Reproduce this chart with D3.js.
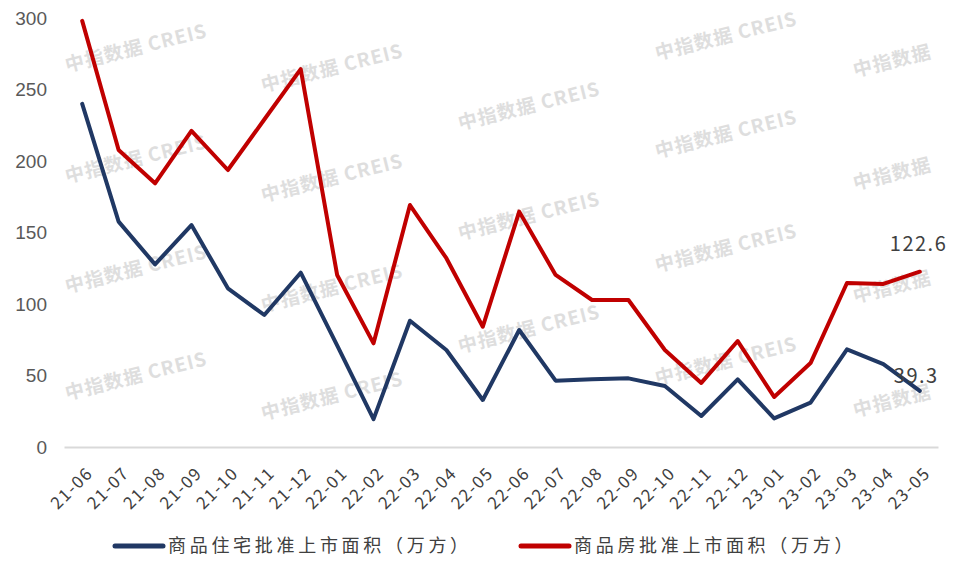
<!DOCTYPE html>
<html>
<head>
<meta charset="utf-8">
<script src="https://cdn.jsdelivr.net/npm/d3@7/dist/d3.min.js"></script>
<style>
  html, body { margin: 0; padding: 0; background: #ffffff; }
  svg { display: block; }
</style>
</head>
<body>
<svg id="chart" width="973" height="562"></svg>
<script>
const categories = ["21-06","21-07","21-08","21-09","21-10","21-11","21-12",
  "22-01","22-02","22-03","22-04","22-05","22-06","22-07","22-08","22-09","22-10","22-11","22-12",
  "23-01","23-02","23-03","23-04","23-05"];
const residentialValues = [240, 157.6, 127.7, 155.2, 111, 92.3, 121.9,
  71, 19.5, 88.3, 67.8, 32.9, 81.8, 46.4, 47.3, 48, 42.7, 21.7, 47.3,
  20, 31, 68.3, 58, 39.3];
const totalValues = [298, 207.7, 184.4, 221, 193.7, 229, 264.3,
  120.3, 72.5, 169.2, 132, 84.1, 164.6, 120.3, 102.8, 102.8, 67.8, 44.8, 74.1,
  35, 58.7, 114.7, 114, 122.6];
const yTicks = [0, 50, 100, 150, 200, 250, 300];
const seriesNames = ["商品住宅批准上市面积（万方）", "商品房批准上市面积（万方）"];
const seriesColors = ["#203864", "#C00000"];
const watermarkText = "中指数据 CREIS";
const watermarkShort = "中指数据";

const svg = d3.select("#chart");
const x = d3.scalePoint().domain(categories).range([64, 938]).padding(0.5);
const y = d3.scaleLinear().domain([0, 300]).range([447, 18]);

// Watermarks (decorative)
const wm = svg.append("g").attr("class", "watermarks");
const wmCols = [
  {x: 67, ys: [72, 183, 293, 400], t: watermarkText},
  {x: 263, ys: [92, 202, 312, 420], t: watermarkText},
  {x: 460, ys: [130, 240, 353], t: watermarkText},
  {x: 657, ys: [60, 158, 272, 385], t: watermarkText},
  {x: 855, ys: [77, 190, 303, 417], t: watermarkShort}
];
wmCols.forEach(c => c.ys.forEach(yy => {
  wm.append("text")
    .attr("transform", `translate(${c.x},${yy}) rotate(-14)`)
    .attr("font-family", "'Noto Sans CJK SC', 'Open Sans', sans-serif")
    .attr("font-weight", "bold")
    .attr("font-size", 19)
    .attr("letter-spacing", "1px")
    .attr("fill", "#dedede")
    .text(c.t);
}));

// Y axis labels
const yAxis = d3.axisLeft(y).tickValues(yTicks).tickSize(0).tickPadding(0);
const yg = svg.append("g").attr("transform", "translate(47,0)").call(yAxis);
yg.select(".domain").remove();
yg.selectAll("text")
  .attr("font-family", "'Liberation Sans', Arial, sans-serif")
  .attr("font-size", 19)
  .attr("fill", "#595959");

// X axis
const xAxis = d3.axisBottom(x).tickSize(0).tickPadding(0);
const xg = svg.append("g").attr("transform", "translate(0,447)").call(xAxis);
xg.select(".domain").attr("stroke", "#d9d9d9").attr("stroke-width", 2);
xg.selectAll("text")
  .attr("font-family", "'Noto Sans CJK SC', sans-serif")
  .attr("font-size", 17)
  .attr("letter-spacing", "1.5px")
  .attr("fill", "#404040")
  .attr("text-anchor", "end")
  .attr("dy", "0.35em")
  .attr("transform", "translate(7,23) rotate(-45)");

// Lines
const line = d3.line().x((d, i) => x(categories[i])).y(d => y(d));
const seriesData = [residentialValues, totalValues];
seriesData.forEach((vals, k) => {
  svg.append("path")
    .datum(vals)
    .attr("d", line)
    .attr("fill", "none")
    .attr("stroke", seriesColors[k])
    .attr("stroke-width", 4)
    .attr("stroke-linejoin", "round")
    .attr("stroke-linecap", "round");
});

// End labels
const last = categories.length - 1;
const lbl = svg.append("g")
  .attr("font-family", "'Noto Sans CJK SC', sans-serif")
  .attr("font-size", 20)
  .attr("letter-spacing", "1.5px")
  .attr("fill", "#404040");
lbl.append("text")
  .attr("x", x(categories[last]) - 30)
  .attr("y", y(totalValues[last]) - 21)
  .text(totalValues[last].toFixed(1));
lbl.append("text")
  .attr("x", x(categories[last]) - 26)
  .attr("y", y(residentialValues[last]) - 8)
  .text(residentialValues[last].toFixed(1));

// Legend
const legendPos = [{x: 115, y: 546}, {x: 521, y: 546}];
seriesNames.forEach((name, k) => {
  const g = svg.append("g").attr("transform", `translate(${legendPos[k].x},${legendPos[k].y})`);
  g.append("line").attr("x1", 0).attr("x2", 48).attr("y1", 0).attr("y2", 0)
    .attr("stroke", seriesColors[k]).attr("stroke-width", 5).attr("stroke-linecap", "round");
  g.append("text").attr("x", 53).attr("y", 0).attr("dy", "0.35em")
    .attr("font-family", "'Noto Sans CJK SC', sans-serif")
    .attr("font-size", 18)
    .attr("letter-spacing", "3.7px")
    .attr("fill", "#404040")
    .text(name);
});
</script>
</body>
</html>
